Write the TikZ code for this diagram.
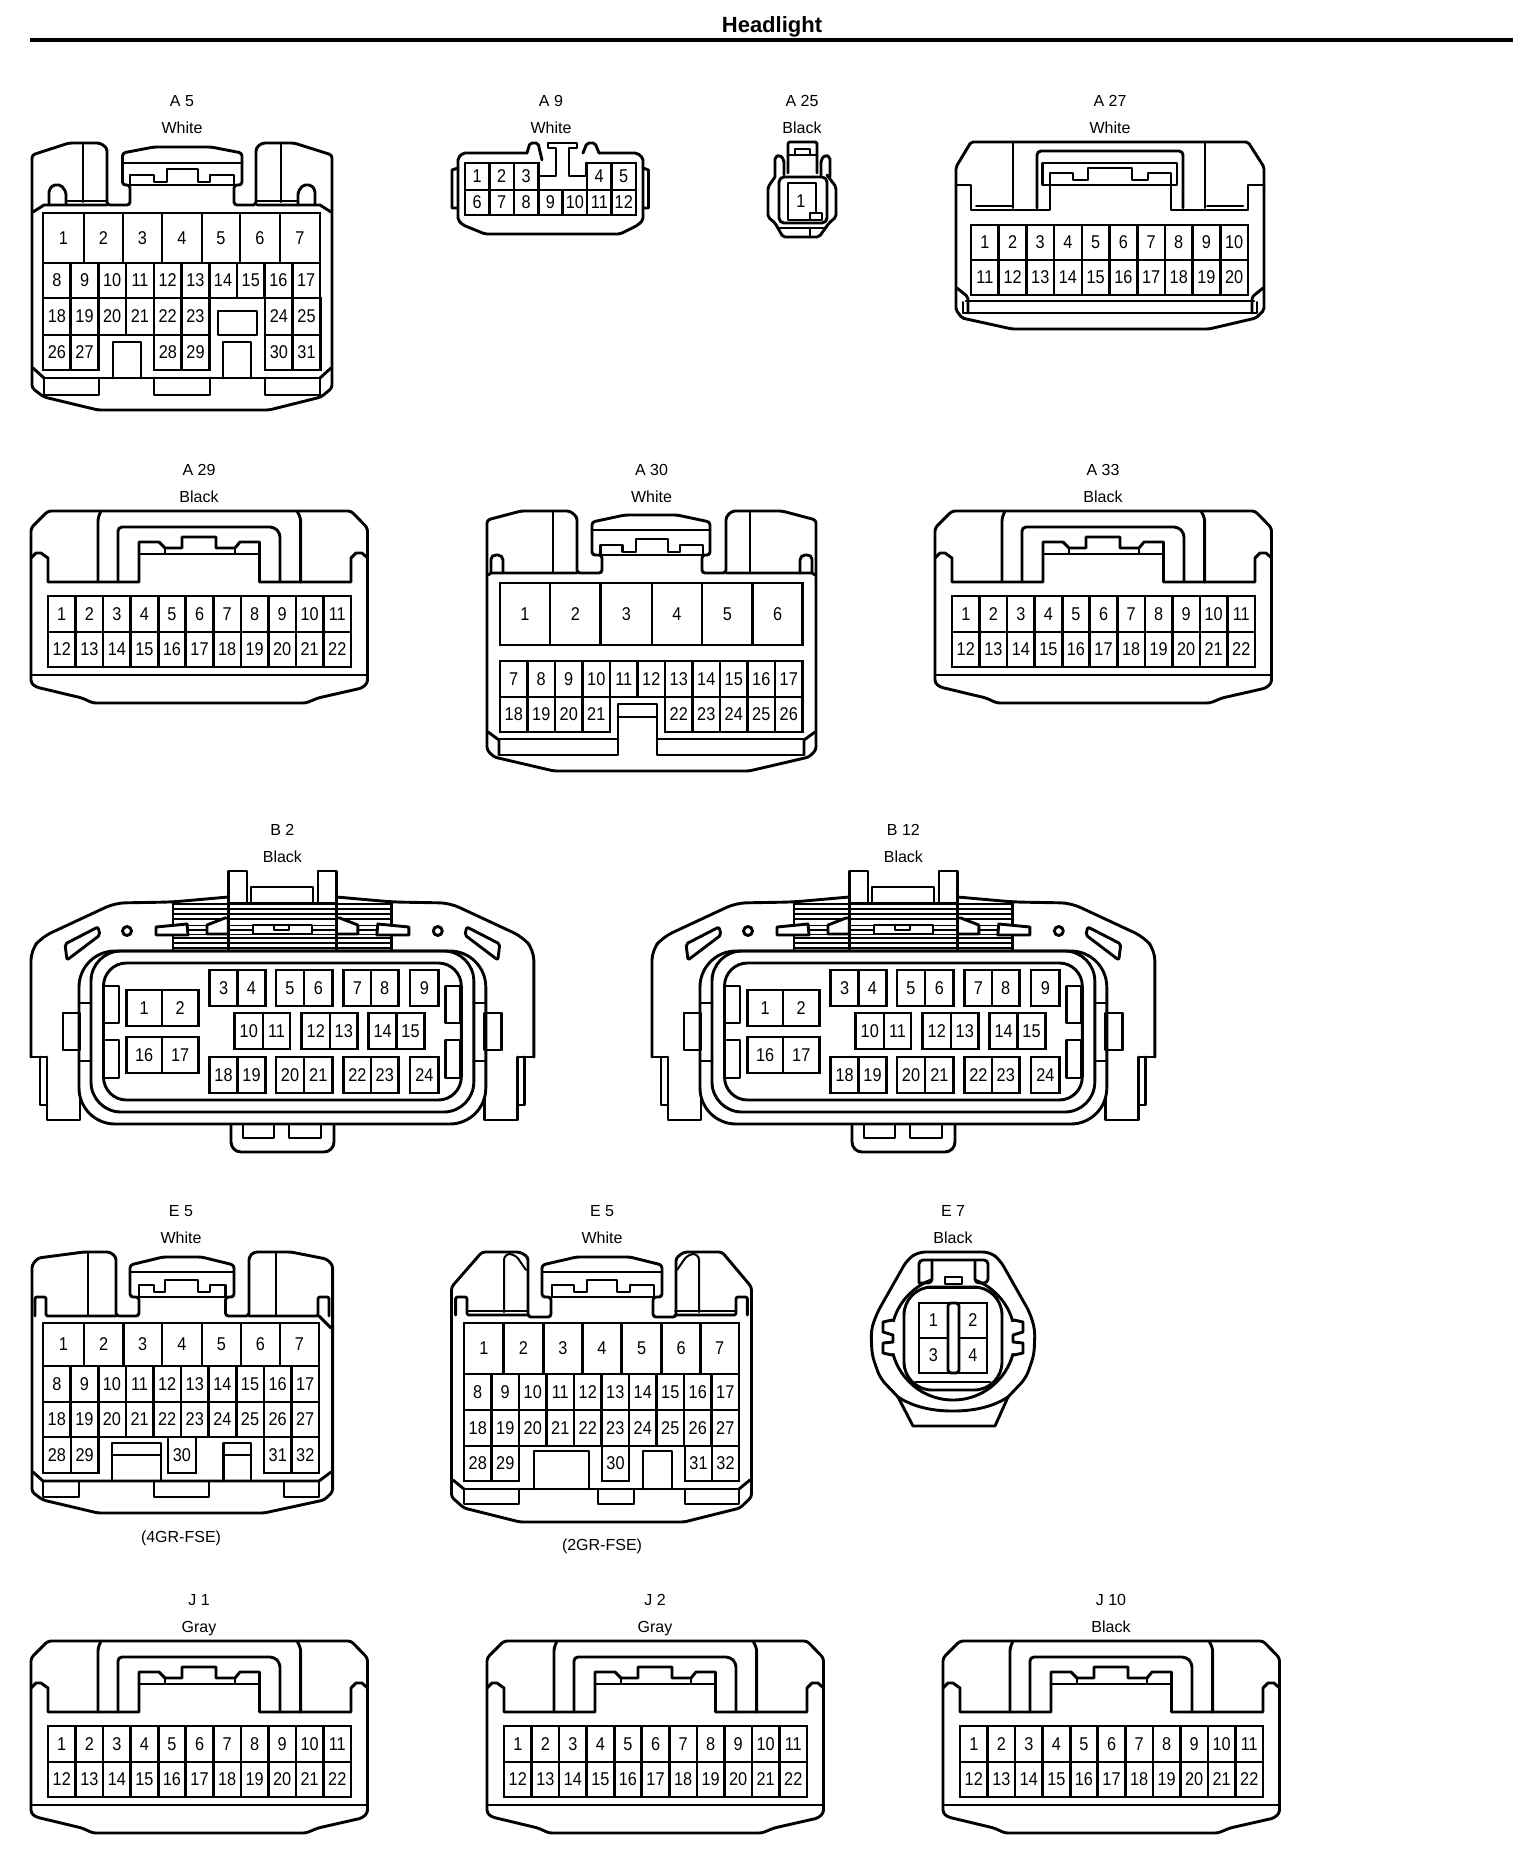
\documentclass[tikz,border=0pt]{standalone}
\usepackage{fontspec}
\setmainfont{Liberation Sans}
\newfontfamily\pinfont[FakeStretch=0.88]{Liberation Sans}
\newcounter{lbl}
\tikzset{
 o/.style={line width=2.9pt,line join=round,line cap=round},
 t/.style={line width=2pt,line join=round,line cap=round},
 pin/.style={line width=2.6pt,line join=miter},
 pinlab/.style={inner sep=0pt,font=\pinfont\fontsize{18.5}{18.5}\selectfont},
 head/.style={inner sep=0pt,anchor=base,font=\fontsize{16}{16}\selectfont},
 mir/.style={xshift=#1*2,xscale=-1},
 wh/.style={fill=white}
}
\newcommand\pinrow[5]{%
 \foreach \tt [count=\ii from 0] in {#5} {%
  \pgfmathsetmacro\xa{#1+\ii*#2}\pgfmathsetmacro\xb{#1+(\ii+1)*#2}%
  \stepcounter{lbl}%
  \draw[pin] (\xa,#3) rectangle (\xb,#4);
  \node[pinlab] (n\thelbl) at ({(\xa+\xb)/2},{(#3+#4)/2}) {\tt};
 }}
\newcommand\pincells[3]{%
 \foreach \xa/\xb/\tt in {#3} {%
  \stepcounter{lbl}%
  \draw[pin] (\xa,#1) rectangle (\xb,#2);
  \node[pinlab] (n\thelbl) at ({(\xa+\xb)/2},{(#1+#2)/2}) {\tt};
 }}
\newcommand\hdr[4]{%
 \stepcounter{lbl}\node[head] (n\thelbl) at (#1,#2+12) {#3};
 \stepcounter{lbl}\node[head] (n\thelbl) at (#1,#2+39) {#4};}
% ---- 22-pin connector
\newcommand\conxxii[4]{%
\begin{scope}[shift={(#1,#2)}]
 \hdr{199}{463}{#3}{#4}
 \draw[o,rounded corners=3] (48,511)--(351,511)--(367.5,528)--(367.5,683)--(362,688)--(318,698)--(306,703)--(93,703)--(82,698)--(36,687)--(31,683)--(31,528)--cycle;
 \draw[o] (31,558)--(36,553)--(41,553)--(48,558)--(48,582)--(139,582)--(139,542)--(159,542)--(165,548)--(182,548)--(182,537)--(216,537)--(216,548)--(235,548)--(240,542)--(259.5,542)--(259.5,582)--(351,582)--(351,558)--(356,553)--(362,553)--(367.5,558);
 \draw[o] (139,554)--(259.5,554);
 \draw[t] (165,548)--(165,554) (235,548)--(235,554);
 \draw[o,rounded corners=3] (98,582)--(98,518)--(101,511);
 \draw[o,rounded corners=3] (300.6,582)--(300.6,518)--(297,511);
 \draw[o,rounded corners=4] (118,582)--(118,527)--(274,527)--(280,533)--(280,582);
 \draw[o] (31,675)--(367.5,675);
 \pinrow{48}{27.55}{596}{632}{1,2,3,4,5,6,7,8,9,10,11}
 \pinrow{48}{27.55}{632}{667}{12,13,14,15,16,17,18,19,20,21,22}
\end{scope}}
% ---- B connector
\newcommand\bhalf{%
 \draw[o,rounded corners=10] (31,1057)--(31,950)--(42,937)--(115,903)--(172,902)--(228.3,897);
 \draw[o] (31,1057)--(47,1057) (40,1057)--(40,1105)--(47,1105) (47,1057)--(47,1120)--(80,1120)--(80,1095);
 \draw[o] (63,1013) rectangle (80,1050);
 \draw[o,rounded corners=2] (65,944)--(98,927)--(100,935)--(67,960)--cycle;
 \draw[o] (127,931) circle[radius=4.5];
 \draw[o,wh] (156,927)--(187,924)--(188,935)--(156,935)--cycle;
 \draw[o,wh] (207,925)--(225,918)--(228.3,918)--(228.3,934)--(207,934)--cycle;
}
\newcommand\conb[3]{%
\begin{scope}[shift={(#1,0)}]
 \hdr{282.4}{823}{#2}{#3}
 \foreach \yy in {904,909,914,919,938,943,948}{\draw[line width=1.5pt] (173,\yy)--(391.8,\yy);}
 \foreach \yy in {925.5,930,934.5}{\draw[line width=1.5pt] (188,\yy)--(207,\yy) (228,\yy)--(253,\yy) (312,\yy)--(336.5,\yy) (357.8,\yy)--(376.8,\yy);}
 \fill[white] (229,921) rectangle (336,923);
 \draw[o] (228.3,951)--(228.3,871)--(247,871)--(247,903);
 \draw[o] (336.5,951)--(336.5,871)--(318,871)--(318,903);
 \draw[o] (251,903)--(251,887)--(313,887)--(313,903);
 \draw[o] (228.3,903)--(336.5,903);
 \draw[o] (173,903)--(173,951) (391.8,903)--(391.8,951);
 \draw[o,wh] (253,925) rectangle (312,934);
 \draw[t] (274,925)--(274,930)--(289,930)--(289,925);
 \bhalf
 \begin{scope}[mir=282.4] \bhalf \end{scope}
 \draw[o,wh,rounded corners=36] (79,951) rectangle (485.8,1124);
 \draw[o,rounded corners=30] (91,951) rectangle (473.8,1112);
 \draw[o,rounded corners=23] (103.5,963) rectangle (461.3,1100);
 \draw[o] (63,1013) rectangle (80,1050) (484.8,1013) rectangle (501.8,1050);
 \draw[o] (79,1003)--(91,1003) (79,1061)--(91,1061) (485.8,1003)--(473.8,1003) (485.8,1061)--(473.8,1061);
 \draw[o] (104,986) rectangle (119,1023) (104,1040) rectangle (119,1078) (460.8,986) rectangle (445.8,1023) (460.8,1040) rectangle (445.8,1078);
 \draw[o,rounded corners=10] (231,1125)--(231,1152)--(334,1152)--(334,1125);
 \draw[o] (243,1125)--(243,1138)--(274,1138)--(274,1125) (289,1125)--(289,1138)--(321,1138)--(321,1125);
 \pincells{990}{1026}{126.4/162/1,162/198.5/2}
 \pincells{1037}{1073}{126.4/162/16,162/198.5/17}
 \pincells{970}{1006}{209.6/237.5/3,237.5/265.5/4,276/304/5,304/332.6/6,343.7/371/7,371/398.5/8,410/438.7/9}
 \pincells{1013}{1049}{234.5/263/10,263/290/11,301.5/330/12,330/357.5/13,368.6/396.5/14,396.5/424.5/15}
 \pincells{1057}{1093}{209.6/237.5/18,237.5/265.5/19,276/304/20,304/332.6/21,343.7/371/22,371/398.5/23,410/438.7/24}
\end{scope}}
\begin{document}
\begin{tikzpicture}[x=1pt,y=-1pt]
\useasboundingbox (0,0) rectangle (1536,1876);
\fill[white] (0,0) rectangle (1536,1876);
% title
\node[inner sep=0pt,anchor=base,font=\bfseries\fontsize{22}{22}\selectfont] (title) at (772,33) {Headlight};
\draw[line width=4pt] (30,40)--(1513,40);
% ===== A 5
\hdr{182}{94}{A 5}{White}
\draw[o,rounded corners=3] (32,155)--(69,143)--(100,143)--(107,148)--(107,205)--(130,205)--(130,185)--(122.5,185)--(122.5,153)--(154,147)--(211,147)--(242,153)--(242,185)--(234,185)--(234,205)--(256,205)--(256,148)--(262,143)--(294,143)--(332,155)--(332,388)--(321,397)--(269,410)--(98,410)--(44,397)--(32,388)--cycle;
\draw[o] (122.5,163)--(242,163) (130,185)--(234,185);
\draw[o] (130,185)--(130,175)--(154,175)--(154,182)--(167,182)--(167,169)--(198,169)--(198,182)--(210,182)--(210,175)--(234,175)--(234,185);
\newcommand\afive{%
 \draw[o] (33,212)--(44,205)--(107,205);
 \draw[o,rounded corners=2] (49,205)--(49,190)--(53,185)--(61,185)--(66,192)--(66,205);
 \draw[t] (66,201)--(107,201) (83,143)--(83,202);
 \draw[o] (33,368)--(44,378);
 \draw[o] (44,378)--(44,395)--(99,395)--(99,378);
 \draw[o] (113,378)--(113,342)--(141,342)--(141,378);
}
\afive
\begin{scope}[mir=182]\afive\end{scope}
\draw[o] (44,378)--(320,378);
\draw[o] (154,378)--(154,395)--(210,395)--(210,378);
\pincells{213}{263}{43/84/1,84/123/2,123/162/3,162/202/4,202/240/5,240/280/6,280/320/7}
\pinrow{43}{27.7}{263}{298}{8,9,10,11,12,13,14,15,16,17}
\pinrow{43}{27.7}{298}{335}{18,19,20,21,22,23}
\pinrow{265}{27.7}{298}{335}{24,25}
\draw[o] (218,311) rectangle (257,335);
\pinrow{43}{27.7}{335}{370}{26,27}
\pinrow{154}{27.7}{335}{370}{28,29}
\pinrow{265}{27.7}{335}{370}{30,31}
% ===== A 9
\hdr{551}{94}{A 9}{White}
\draw[o,rounded corners=2] (527,153)--(463,153)--(458,158)--(458,220)--(463,225)--(485,234)--(620,234)--(638,225)--(643,220)--(643,158)--(637,153)--(599,153);
\draw[o,rounded corners=2] (527,153)--(530,143)--(538,143)--(542,160);
\draw[o,rounded corners=2] (583,153)--(587,143)--(595,143)--(599,153);
\draw[o] (539,163)--(539,176)--(556,176)--(556,148)--(548,148)--(548,143)--(577,143)--(577,148)--(569,148)--(569,176)--(586,176)--(586,163);
\draw[o] (458,168)--(452,170)--(452,208)--(458,208) (643,168)--(648.5,170)--(648.5,208)--(643,208);
\pinrow{465}{24.5}{163}{190}{1,2,3}
\pinrow{587}{24.5}{163}{190}{4,5}
\pinrow{465}{24.43}{190}{215}{6,7,8,9,10,11,12}
% ===== A 25
\hdr{802}{94}{A 25}{Black}
\draw[o,rounded corners=2] (788,173)--(788,142)--(817,142)--(817,173);
\draw[o] (788,155)--(817,155) (795,155)--(795,149)--(810,149)--(810,155);
\draw[o,rounded corners=2] (775,177)--(775,157)--(780,155)--(784,160)--(784,175);
\draw[o,rounded corners=2] (821,175)--(821,160)--(825,155)--(830,157)--(830,177);
\draw[o,rounded corners=2] (775,177)--(768,187)--(768,217)--(775,223)--(783,237)--(819,237)--(829,223)--(836,217)--(836,187)--(827,175);
\draw[o,rounded corners=5] (779,177) rectangle (827,223);
\draw[o] (788,183) rectangle (816,220);
\draw[o,wh] (810,213) rectangle (822,220);
\draw[o] (779,228)--(826,228) (810,228)--(810,237);
\stepcounter{lbl}\node[pinlab] (n\thelbl) at (801,201) {1};
% ===== A 27
\hdr{1110}{94}{A 27}{White}
\draw[o,rounded corners=2] (971,142)--(1248,142)--(1264,167)--(1264,310)--(1256,318)--(1209,329)--(1012,329)--(962,318)--(956,310)--(956,167)--cycle;
\draw[o] (956,185)--(971,185)--(971,210)--(1050,210)--(1050,185)--(1171,185)--(1171,210)--(1248,210)--(1248,185)--(1264,185);
\draw[t] (1013,142)--(1013,208) (1205,142)--(1205,208) (976,206)--(1013,206) (1207,206)--(1243,206);
\draw[o,rounded corners=4] (1037,208)--(1037,151)--(1183,151)--(1183,208);
\draw[o] (1042.5,163) rectangle (1177,185);
\draw[o] (1050,185)--(1050,173)--(1073,173)--(1073,180)--(1088,180)--(1088,168)--(1132,168)--(1132,180)--(1148,180)--(1148,173)--(1171,173)--(1171,185);
\pinrow{971}{27.7}{225}{260}{1,2,3,4,5,6,7,8,9,10}
\pinrow{971}{27.7}{260}{295}{11,12,13,14,15,16,17,18,19,20}
\draw[o] (966,301)--(1254,301) (964,313)--(1256,313);
\draw[o,rounded corners=2] (957,288)--(968,297)--(968,313) (1263,288)--(1252,297)--(1252,313);
\draw[t] (963,302)--(963,313) (1257,302)--(1257,313);
% ===== A 29 / A 33 / J
\conxxii{0}{0}{A 29}{Black}
\conxxii{904}{0}{A 33}{Black}
\conxxii{0}{1130}{J 1}{Gray}
\conxxii{456}{1130}{J 2}{Gray}
\conxxii{912}{1130}{J 10}{Black}
% ===== A 30
\hdr{651.5}{463}{A 30}{White}
\draw[o,rounded corners=3] (487,520)--(521,511)--(570,511)--(577,517)--(577,573)--(602,573)--(602,555)--(592,555)--(592,522)--(625,515)--(677,515)--(710,522)--(710,555)--(702,555)--(702,573)--(726,573)--(726,517)--(732,511)--(782,511)--(816,520)--(816,750)--(809,757)--(749,771)--(554,771)--(494,757)--(487,750)--cycle;
\draw[t] (553,511)--(553,573) (750,511)--(750,573);
\draw[o] (592,530)--(710,530) (602,555)--(702,555);
\draw[o] (600.7,555)--(600.7,545)--(622.6,545)--(622.6,552)--(636,552)--(636,539)--(668,539)--(668,552)--(680,552)--(680,545)--(703,545)--(703,555);
\newcommand\athirty{%
 \draw[o,rounded corners=2] (491,573)--(491,557)--(494,555)--(500,555)--(503,558)--(503,573);
 \draw[o] (488,575)--(491,573)--(577,573);
 \draw[o] (488,732)--(499,740)--(499,755);
}
\athirty
\begin{scope}[mir=651.5]\athirty\end{scope}
\pincells{583}{645}{500/550/1,550/600.6/2,600.6/652/3,652/702/4,702/752.6/5,752.6/802.5/6}
\pinrow{500}{27.5}{661}{697}{7,8,9,10,11,12,13,14,15,16,17}
\pinrow{500}{27.5}{697}{732}{18,19,20,21}
\pinrow{665}{27.5}{697}{732}{22,23,24,25,26}
\draw[o] (499,739)--(618,739) (657,739)--(803,739) (499,755)--(618,755)--(618,704)--(657,704)--(657,755)--(803,755) (618,717)--(657,717);
% ===== B
\conb{0}{B 2}{Black}
\conb{621}{B 12}{Black}
% ===== E 5 (4GR)
\hdr{181}{1204}{E 5}{White}
\stepcounter{lbl}\node[head] (n\thelbl) at (181,1542) {(4GR-FSE)};
\draw[o,rounded corners=3] (32,1265)--(38,1258)--(84,1252)--(110,1252)--(116,1257)--(116,1316)--(139,1316)--(139,1297)--(130,1297)--(130,1265)--(163,1257)--(201.5,1257)--(234,1265)--(234,1297)--(225.5,1297)--(225.5,1316)--(249,1316)--(249,1257)--(254,1252)--(291,1252)--(326.5,1259)--(332.6,1265)--(332.6,1492)--(324,1500)--(264,1513)--(98,1513)--(43,1500)--(32,1492)--cycle;
\draw[t] (88,1252)--(88,1315) (275.5,1252)--(275.5,1315);
\draw[o] (130,1272)--(234,1272) (139,1297)--(225.5,1297);
\draw[o] (139,1297)--(139,1285)--(154,1285)--(154,1292)--(165,1292)--(165,1280)--(198,1280)--(198,1292)--(210,1292)--(210,1285)--(225.5,1285)--(225.5,1297);
\draw[o,rounded corners=2] (35,1316)--(35,1297)--(46,1297)--(46,1316)--(116,1316);
\draw[o,rounded corners=2] (329,1316)--(329,1297)--(318,1297)--(318,1316)--(249,1316);
\draw[o] (319,1316)--(331,1328);
\pincells{1323}{1366}{43/84/1,84/123.5/2,123.5/162/3,162/202/4,202/241/5,241/280/6,280/319/7}
\pinrow{43}{27.6}{1366}{1402}{8,9,10,11,12,13,14,15,16,17}
\pinrow{43}{27.6}{1402}{1437}{18,19,20,21,22,23,24,25,26,27}
\pinrow{43}{27.8}{1437}{1473}{28,29}
\pinrow{168}{28}{1437}{1473}{30}
\pinrow{264}{27.5}{1437}{1473}{31,32}
\draw[o] (33,1472)--(43,1481)--(319,1481)--(331,1472);
\draw[o] (112,1481)--(112,1443)--(161,1443)--(161,1481) (112,1455)--(161,1455);
\draw[o] (223.5,1481)--(223.5,1443)--(251,1443)--(251,1481) (223.5,1455)--(251,1455);
\draw[o] (43,1481)--(43,1497)--(79,1497)--(79,1481) (154,1481)--(154,1497)--(209,1497)--(209,1481) (284,1481)--(284,1497)--(319,1497)--(319,1481);
% ===== E 5 (2GR)
\hdr{602}{1204}{E 5}{White}
\stepcounter{lbl}\node[head] (n\thelbl) at (602,1550) {(2GR-FSE)};
\draw[o,rounded corners=3] (451.5,1287)--(482,1252)--(520,1252)--(528,1257)--(528,1317)--(551,1317)--(551,1297)--(542,1297)--(542,1265)--(576.5,1257)--(630,1257)--(662,1265)--(662,1297)--(653,1297)--(653,1317)--(676,1317)--(676,1258)--(684,1252)--(722,1252)--(751.5,1287)--(751.5,1497)--(740,1508)--(684,1522)--(520,1522)--(464,1508)--(451.5,1497)--cycle;
\draw[o] (542,1272)--(662,1272) (552,1297)--(654,1297);
\draw[o] (552,1297)--(552,1285)--(574,1285)--(574,1292)--(587,1292)--(587,1280)--(617,1280)--(617,1292)--(630,1292)--(630,1285)--(654,1285)--(654,1297);
\newcommand\etwo{%
 \draw[o,rounded corners=2] (455.6,1315)--(455.6,1297)--(467,1297)--(467,1315)--(528,1315);
 \draw[t,rounded corners=6] (504,1312)--(504,1254)--(515,1254)--(526,1270);
 \draw[t] (467,1311)--(528,1311);
 \draw[o] (453,1480)--(464,1489);
}
\etwo
\begin{scope}[mir=601.5]\etwo\end{scope}
\pincells{1323}{1374}{464/503.6/1,503.6/543.4/2,543.4/582.6/3,582.6/621.4/4,621.4/661.7/5,661.7/700.5/6,700.5/739/7}
\pinrow{464}{27.5}{1374}{1410}{8,9,10,11,12,13,14,15,16,17}
\pinrow{464}{27.5}{1410}{1446}{18,19,20,21,22,23,24,25,26,27}
\pinrow{464}{27.5}{1446}{1481}{28,29}
\pinrow{602}{27}{1446}{1481}{30}
\pinrow{685}{27}{1446}{1481}{31,32}
\draw[o] (464,1489)--(739,1489);
\draw[o] (534,1489)--(534,1451)--(589,1451)--(589,1489) (643,1489)--(643,1451)--(672,1451)--(672,1489);
\draw[o] (464,1489)--(464,1504)--(519,1504)--(519,1489) (598,1489)--(598,1504)--(634,1504)--(634,1489) (685,1489)--(685,1504)--(739,1504)--(739,1489);
% ===== E 7
\hdr{953}{1204}{E 7}{Black}
\draw[o] (953,1338) circle[radius=62];
\fill[white] (932,1260) rectangle (975,1284) (885,1322) rectangle (897,1353) (1009,1322) rectangle (1021,1353);
\draw[o,rounded corners=4] (919,1283)--(919,1260)--(988,1260)--(988,1283)--(975,1283)--(975,1260) (932,1260)--(932,1283)--(919,1283);
\draw[o] (945,1284)--(945,1277)--(962,1277)--(962,1284)--cycle;
\draw[o,rounded corners=7] (898,1397)--(880,1378)--(872,1355)--(871,1330)--(877,1313)--(907,1260)--(918,1252)--(990,1252)--(1000,1260)--(1030,1313)--(1035,1330)--(1034,1355)--(1026,1378)--(1008,1397);
\draw[o] (898,1397)--(913,1426)--(995,1426)--(1008,1397);
\draw[o] (898,1397) .. controls (915,1408) and (935,1411) .. (953,1411) .. controls (971,1411) and (991,1408) .. (1008,1397);
\draw[o,rounded corners=28] (904,1287) rectangle (1002,1390);
\draw[t] (915,1382)--(990,1382) (925,1288)--(982,1288);
\newcommand\esev{%
 \draw[o] (892,1320)--(883,1322)--(883,1332)--(893,1335)--(893,1342)--(883,1343)--(883,1353)--(892,1355);
}
\esev
\begin{scope}[mir=953]\esev\end{scope}
\pincells{1303}{1338}{919/948/1,959/987/2}
\pincells{1338}{1373}{919/948/3,959/987/4}
\draw[o,rounded corners=3] (948,1303) rectangle (959,1373);
\end{tikzpicture}
\end{document}
